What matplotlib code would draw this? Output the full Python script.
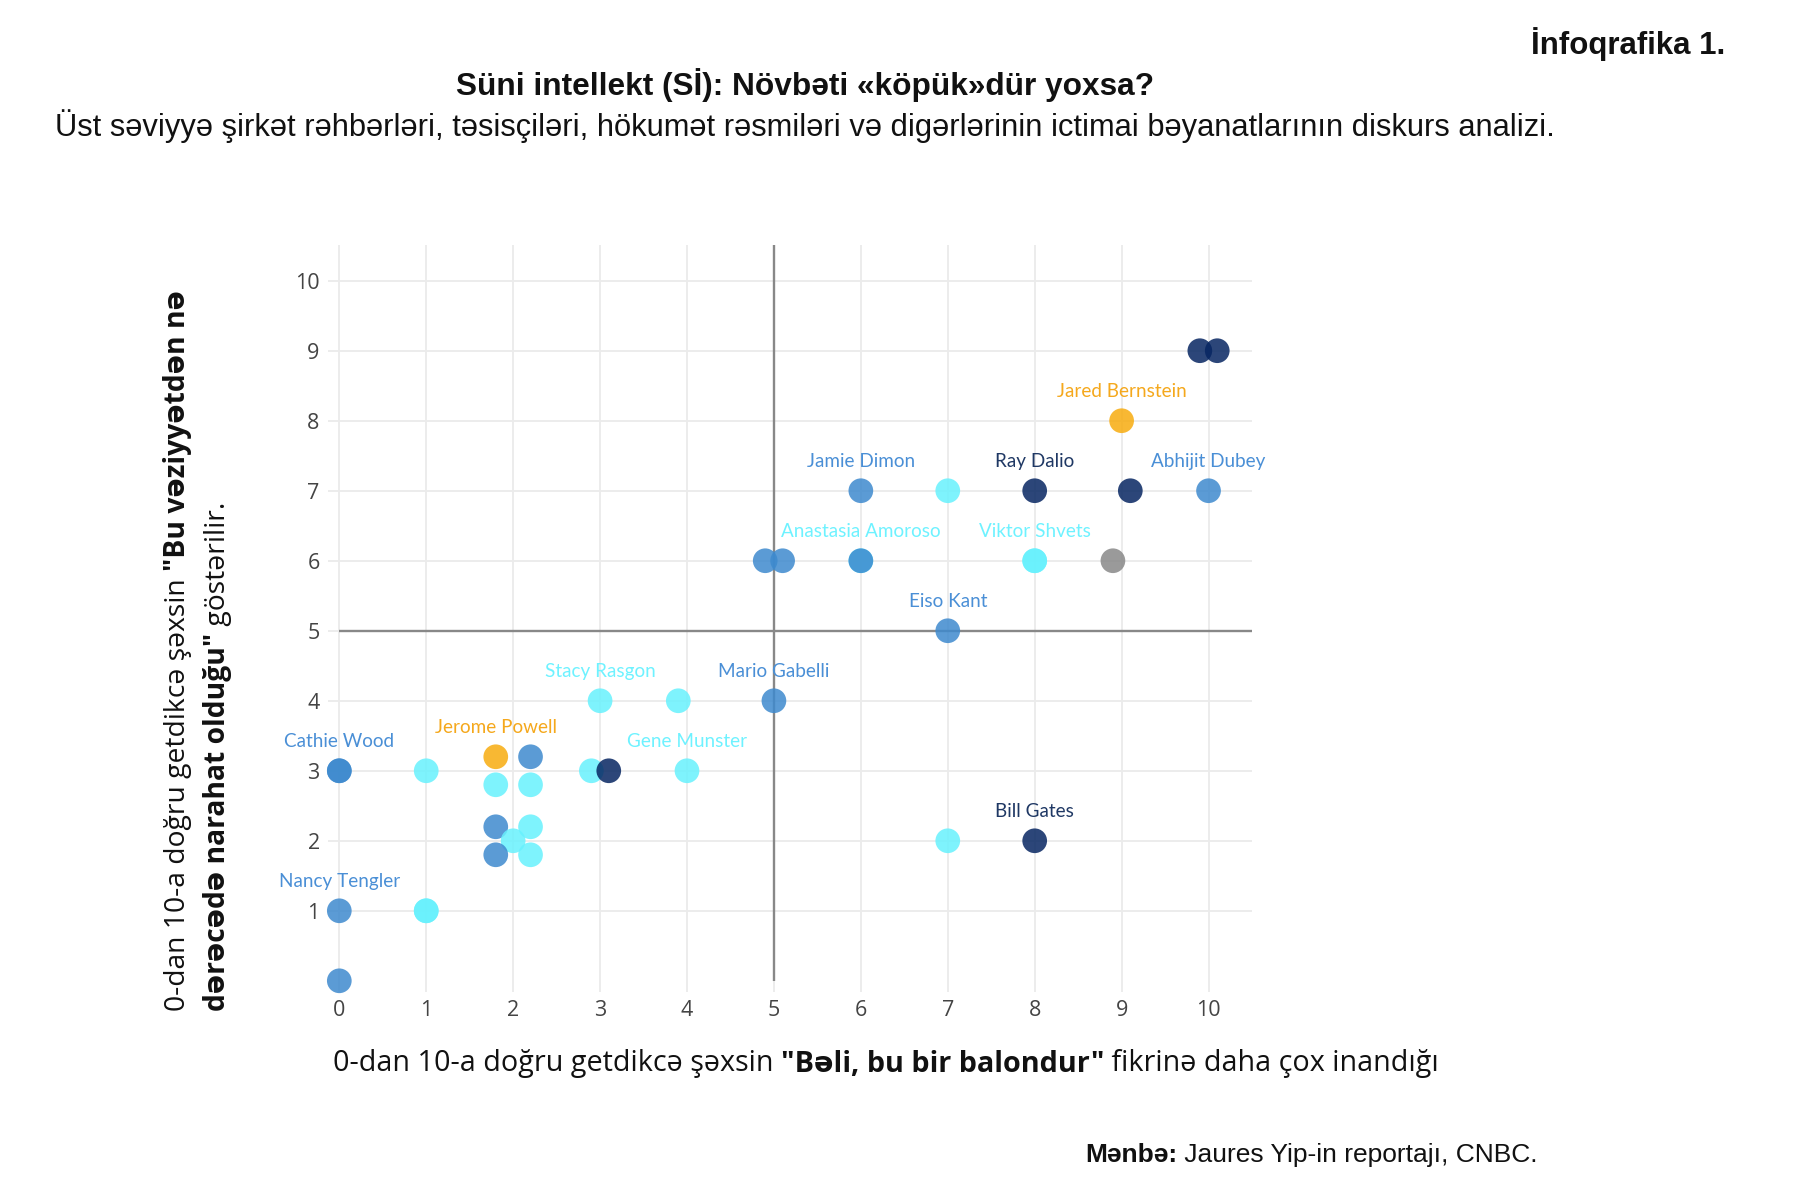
import matplotlib
matplotlib.use("Agg")
import matplotlib.pyplot as plt

# ── Data ────────────────────────────────────────────────────────────────
x_vals = [9.9, 10.1, 9.0,
          6.0, 7.0, 8.0, 9.1, 10.0,
          4.9, 5.1, 6.0, 6.0, 8.0, 8.0, 8.9,
          7.0, 5.0, 3.0, 3.9,
          4.0, 2.9, 3.1, 1.0, 0.0, 0.0,
          1.8, 2.2, 1.8, 2.2,
          1.8, 2.2, 2.0, 1.8, 2.2,
          0.0, 1.0, 1.0, 0.0,
          7.0, 8.0]
y_vals = [9, 9, 8,
          7, 7, 7, 7, 7,
          6, 6, 6, 6, 6, 6, 6,
          5, 4, 4, 4,
          3, 3, 3, 3, 3, 3,
          3.2, 3.2, 2.8, 2.8,
          2.2, 2.2, 2.0, 1.8, 1.8,
          1, 1, 1, 0,
          2, 2]
groups = ["navy", "navy", "orange",
          "blue", "cyan", "navy", "navy", "blue",
          "blue", "blue", "cyan", "blue", "cyan", "cyan", "gray",
          "blue", "blue", "cyan", "cyan",
          "cyan", "cyan", "navy", "cyan", "blue", "blue",
          "orange", "blue", "cyan", "cyan",
          "blue", "cyan", "cyan", "blue", "cyan",
          "blue", "cyan", "cyan", "blue",
          "cyan", "navy"]
names = ["", "", "Jared Bernstein",
         "Jamie Dimon", "", "Ray Dalio", "", "Abhijit Dubey",
         "", "", "", "Anastasia Amoroso", "Viktor Shvets", "", "",
         "Eiso Kant", "Mario Gabelli", "Stacy Rasgon", "",
         "Gene Munster", "", "", "", "Cathie Wood", "",
         "Jerome Powell", "", "", "",
         "", "", "", "", "",
         "Nancy Tengler", "", "", "",
         "", "Bill Gates"]
label_group = {"Anastasia Amoroso": "cyan"}

ticks = list(range(0, 11))

dot_colors = {"blue": "#3e8ace", "cyan": "#68f1fd", "navy": "#072662",
              "orange": "#f7ac0f", "gray": "#888888"}
text_colors = {"blue": "#4a8fd6", "cyan": "#6ef2ff", "navy": "#1f3864",
               "orange": "#f5a81c", "gray": "#888888"}

SANS = ["Liberation Sans", "DejaVu Sans"]
AXF = ["Open Sans", "DejaVu Sans"]

fig = plt.figure(figsize=(17.96, 12), dpi=100)
W, H = 1796, 1200

# axes box in pixels: x -0.13..10.5 -> 328..1252, y -0.16..10.51 -> 992..245
ax = fig.add_axes([328 / W, 1 - 992 / H, (1252 - 328) / W, (992 - 245) / H])
ax.set_xlim(-0.13, 10.5)
ax.set_ylim(-0.16, 10.51)
for s in ax.spines.values():
    s.set_visible(False)
ax.set_axisbelow(True)
ax.set_xticks(ticks)
ax.set_yticks(ticks[1:])
ax.grid(True, color="#ebebeb", lw=1.3)
ax.tick_params(length=0, labelsize=15.5, labelcolor="#444444", pad=6)
for lab in ax.get_xticklabels() + ax.get_yticklabels():
    lab.set_fontfamily(AXF)

# quadrant lines
ax.plot([0, 10.5], [5, 5], color="#888888", lw=1.7, zorder=2, solid_capstyle="butt")
ax.plot([5, 5], [0, 10.51], color="#888888", lw=1.7, zorder=2, solid_capstyle="butt")

ax.scatter(x_vals, y_vals, s=316, c=[dot_colors[g] for g in groups],
           alpha=0.85, linewidths=0, zorder=3, clip_on=False)

for xv, yv, g, n in zip(x_vals, y_vals, groups, names):
    if not n:
        continue
    col = text_colors[label_group.get(n, g)]
    ax.annotate(n, (xv, yv), xytext=(0, 21), textcoords="offset points",
                ha="center", va="center", fontsize=13.6, color=col,
                family=["Lato", "DejaVu Sans"], zorder=4)


# ── mixed-weight text helper ────────────────────────────────────────────
def rich_text(parts, x, y, size, family, vertical=False, center=False):
    """parts: list of (string, weight). x, y in pixels (start of the run)."""
    r = fig.canvas.get_renderer()
    objs = []
    for s, w in parts:
        t = fig.text(0, 0, s, fontsize=size, fontweight=w, family=family,
                     color="#111111", rotation=90 if vertical else 0,
                     rotation_mode="anchor", ha="left", va="center",
                     transform=None)
        objs.append(t)
    lens = []
    for t in objs:
        bb = t.get_window_extent(renderer=r)
        lens.append(bb.height if vertical else bb.width)
    total = sum(lens)
    pos = (x if not vertical else y) - (total / 2 if center else 0)
    for t, L in zip(objs, lens):
        if vertical:
            t.set_position((x, pos))
        else:
            t.set_position((pos, y))
        pos += L


# titles (pixel coords, origin bottom-left)
fig.text(1725 / W, 1 - 44 / H, "İnfoqrafika 1.", ha="right", va="center",
         fontsize=22.5, fontweight="bold", family=SANS, color="#111111")
fig.text(805 / W, 1 - 85 / H, "Süni intellekt (Sİ): Növbəti «köpük»dür yoxsa?",
         ha="center", va="center", fontsize=22.8, fontweight="bold", family=SANS,
         color="#111111")
fig.text(805 / W, 1 - 126 / H,
         "Üst səviyyə şirkət rəhbərləri, təsisçiləri, hökumət rəsmiləri və digərlərinin "
         "ictimai bəyanatlarının diskurs analizi.",
         ha="center", va="center", fontsize=22.2, family=SANS, color="#111111")

rich_text([("0-dan 10-a doğru getdikcə şəxsin ", "normal"),
           ("\"Bəli, bu bir balondur\"", "bold"),
           (" fikrinə daha çox inandığı", "normal")],
          886, H - 1064, 20.7, AXF, center=True)

rich_text([("0-dan 10-a doğru getdikcə şəxsin ", "normal"),
           ("\"Bu vəziyyətdən nə", "bold")],
          178, H - 1011, 20.3, AXF, vertical=True)
rich_text([("dərəcədə narahat olduğu\"", "bold"),
           (" göstərilir.", "normal")],
          218, H - 1011, 20.3, AXF, vertical=True)

rich_text([("Mənbə:", "bold"), (" Jaures Yip-in reportajı, CNBC.", "normal")],
          1085, H - 1155, 19, SANS)

fig.savefig("out.png", dpi=100, facecolor="white")
